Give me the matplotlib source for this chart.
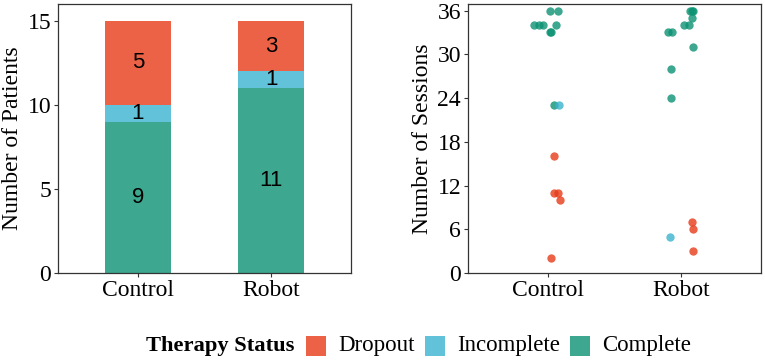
import numpy as np
import matplotlib.pyplot as plt
from matplotlib.patches import Rectangle

# bar data
groups = ['Control', 'Robot']
complete = [9, 11]
incomplete = [1, 1]
dropout = [5, 3]

# session data (x = jittered group position, y = sessions)
ctrl_complete_x = [1.015, 1.075, 0.895, 0.93, 0.96, 1.06, 1.015, 1.02, 1.045]
ctrl_complete_y = [36, 36, 34, 34, 34, 34, 33, 33, 23]
ctrl_incomplete_x = [1.08]
ctrl_incomplete_y = [23]
ctrl_dropout_x = [1.045, 1.045, 1.075, 1.09, 1.02]
ctrl_dropout_y = [16, 11, 11, 10, 2]

rob_complete_x = [2.065, 2.09, 2.08, 2.08, 2.02, 2.06, 1.90, 1.93, 2.09, 1.925, 1.925]
rob_complete_y = [36, 36, 36, 35, 34, 34, 33, 33, 31, 28, 24]
rob_incomplete_x = [1.915]
rob_incomplete_y = [5]
rob_dropout_x = [2.08, 2.09, 2.09]
rob_dropout_y = [7, 6, 3]

status = ['Dropout', 'Incomplete', 'Complete']

# bar fills and point base colours
bar_drop, bar_inc, bar_comp = '#EB6247', '#62C2D9', '#3DA88F'
pt_drop, pt_inc, pt_comp = '#E63B19', '#3BB3CF', '#0C9273'

W, H = 765, 362
fig = plt.figure(figsize=(W / 100, H / 100), dpi=100)
serif = 'Liberation Serif'
fs = 17

def px_axes(l, t, r, b):
    return fig.add_axes([l / W, 1 - b / H, (r - l) / W, (b - t) / H])

def style(ax):
    for s in ax.spines.values():
        s.set_color('#333333')
        s.set_linewidth(0.9)
    ax.tick_params(length=3, width=0.8, color='#333333', labelsize=fs, pad=2)
    for lab in ax.get_xticklabels() + ax.get_yticklabels():
        lab.set_fontfamily(serif)

# left panel: stacked bars
ax1 = px_axes(58, 4, 351, 273)
x = np.array([1, 2])
ax1.bar(x, complete, width=0.5, color=bar_comp, linewidth=0)
ax1.bar(x, incomplete, width=0.5, bottom=complete, color=bar_inc, linewidth=0)
bot2 = np.array(complete) + np.array(incomplete)
ax1.bar(x, dropout, width=0.5, bottom=bot2, color=bar_drop, linewidth=0)
for i in range(2):
    ax1.text(x[i], complete[i] / 2, str(complete[i]), ha='center', va='center',
             fontsize=16, family='Liberation Sans')
    ax1.text(x[i], complete[i] + incomplete[i] / 2, str(incomplete[i]), ha='center', va='center',
             fontsize=16, family='Liberation Sans')
    ax1.text(x[i], bot2[i] + dropout[i] / 2, str(dropout[i]), ha='center', va='center',
             fontsize=16, family='Liberation Sans')
ax1.set_xlim(0.4, 2.6)
ax1.set_ylim(0, 16)
ax1.set_xticks(x)
ax1.set_xticklabels(groups)
ax1.set_yticks([0, 5, 10, 15])
ax1.set_ylabel('Number of Patients', fontsize=fs, family=serif, labelpad=3)
style(ax1)

# right panel: sessions scatter
ax2 = px_axes(468, 4, 761, 273)
ax2.scatter(ctrl_complete_x + rob_complete_x, ctrl_complete_y + rob_complete_y,
            s=36, color=pt_comp, alpha=0.8, linewidths=0)
ax2.scatter(ctrl_incomplete_x + rob_incomplete_x, ctrl_incomplete_y + rob_incomplete_y,
            s=36, color=pt_inc, alpha=0.8, linewidths=0)
ax2.scatter(ctrl_dropout_x + rob_dropout_x, ctrl_dropout_y + rob_dropout_y,
            s=36, color=pt_drop, alpha=0.8, linewidths=0)
ax2.set_xlim(0.4, 2.6)
ax2.set_ylim(0, 36.9)
ax2.set_xticks(x)
ax2.set_xticklabels(groups)
ax2.set_yticks(range(0, 37, 6))
ax2.set_ylabel('Number of Sessions', fontsize=fs, family=serif, labelpad=3)
style(ax2)

# legend, laid out by hand in pixel positions
ly = 1 - 346 / H
fig.text(146 / W, ly, 'Therapy Status', fontsize=16.2, family=serif,
         weight='bold', va='center', ha='left')
box_left = [306, 425, 570]
for bl, col, lab in zip(box_left, [bar_drop, bar_inc, bar_comp], status):
    fig.add_artist(Rectangle((bl / W, (H - 356) / H), 20 / W, 20 / H,
                             transform=fig.transFigure, facecolor=col, linewidth=0))
    fig.text((bl + 32) / W, ly, lab, fontsize=16.5, family=serif, va='center', ha='left')

fig.savefig('out.png', dpi=100)
